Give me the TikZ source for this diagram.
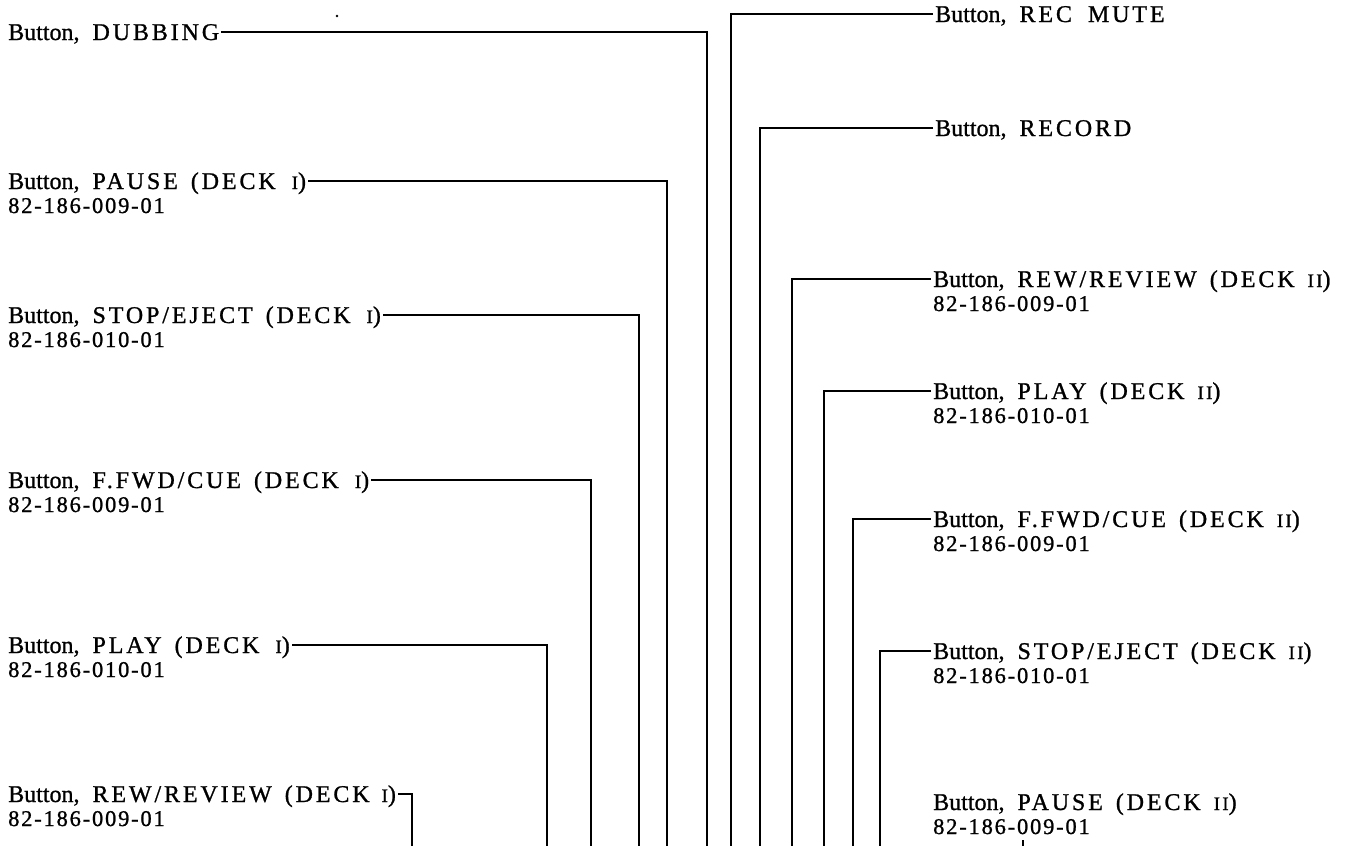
\documentclass[tikz,border=0pt]{standalone}
\usepackage{fontspec}
\setmainfont{Liberation Serif}[FakeBold=1]
\newfontfamily\capsfont{Liberation Serif}[LetterSpace=12,FakeBold=1]
\newfontfamily\numfont{Liberation Serif}[LetterSpace=8,FakeBold=1]
\newcommand{\cp}[1]{{\capsfont #1}}
\newcommand{\rn}[1]{{\fontsize{19}{19}\selectfont\capsfont #1}}
\newcommand{\ws}{\hspace{13pt}}
\begin{document}
\begin{tikzpicture}[x=1pt,y=-1pt,
  lbl/.style={anchor=west, inner sep=0pt, text height=16pt, text depth=0pt, font=\fontsize{24}{24}\selectfont},
  num/.style={anchor=base west, inner sep=0pt, font=\fontsize{22.5}{22.5}\selectfont\numfont},
  lead/.style={line width=1.5pt, black}]
\useasboundingbox (0,0) rectangle (1361,846);
% left labels
\node[lbl] (dub) at (8,32) {Button,\ws\cp{DUBBING}};
\node[lbl] (pauseI) at (8,181) {Button,\ws\cp{PAUSE\ws(DECK}\hspace{16pt}\rn{I})};
\node[num] (pauseIn) at (8,213) {82-186-009-01};
\node[lbl] (stopI) at (8,315) {Button,\ws\cp{STOP/EJECT\ws(DECK}\hspace{16pt}\rn{I})};
\node[num] (stopIn) at (8,347) {82-186-010-01};
\node[lbl] (ffwdI) at (8,480) {Button,\ws\cp{F.FWD/CUE\ws(DECK}\hspace{16pt}\rn{I})};
\node[num] (ffwdIn) at (8,512) {82-186-009-01};
\node[lbl] (playI) at (8,645) {Button,\ws\cp{PLAY\ws(DECK}\hspace{16pt}\rn{I})};
\node[num] (playIn) at (8,677) {82-186-010-01};
\node[lbl] (rewI) at (8,794) {Button,\ws\cp{REW/REVIEW\ws(DECK}\hspace{12pt}\rn{I})};
\node[num] (rewIn) at (8,826) {82-186-009-01};
% right labels
\node[lbl] (recm) at (935,14) {Button,\ws\cp{REC\hspace{16pt}MUTE}};
\node[lbl] (rec) at (935,128) {Button,\ws\cp{RECORD}};
\node[lbl] (rewII) at (933,279) {Button,\ws\cp{REW/REVIEW\ws(DECK}\ws\rn{II})};
\node[num] (rewIIn) at (933,311) {82-186-009-01};
\node[lbl] (playII) at (933,391) {Button,\ws\cp{PLAY\ws(DECK}\ws\rn{II})};
\node[num] (playIIn) at (933,423) {82-186-010-01};
\node[lbl] (ffwdII) at (933,519) {Button,\ws\cp{F.FWD/CUE\ws(DECK}\ws\rn{II})};
\node[num] (ffwdIIn) at (933,551) {82-186-009-01};
\node[lbl] (stopII) at (933,651) {Button,\ws\cp{STOP/EJECT\ws(DECK}\ws\rn{II})};
\node[num] (stopIIn) at (933,683) {82-186-010-01};
\node[lbl] (pauseII) at (933,802) {Button,\ws\cp{PAUSE\ws(DECK}\ws\rn{II})};
\node[num] (pauseIIn) at (933,834) {82-186-009-01};
% bottom ends
\coordinate (bdub) at (707,846);
\coordinate (bpauseI) at (667,846);
\coordinate (bstopI) at (639,846);
\coordinate (bffwdI) at (591,846);
\coordinate (bplayI) at (547,846);
\coordinate (brewI) at (412,846);
\coordinate (brecm) at (731,846);
\coordinate (brec) at (760,846);
\coordinate (brewII) at (792,846);
\coordinate (bplayII) at (824,846);
\coordinate (bffwdII) at (853,846);
\coordinate (bstopII) at (880,846);
% leaders
\draw[lead] ([xshift=2pt]dub.east) -| (bdub);
\draw[lead] ([xshift=2pt]pauseI.east) -| (bpauseI);
\draw[lead] ([xshift=2pt]stopI.east) -| (bstopI);
\draw[lead] ([xshift=2pt]ffwdI.east) -| (bffwdI);
\draw[lead] ([xshift=2pt]playI.east) -| (bplayI);
\draw[lead] ([xshift=2pt]rewI.east) -| (brewI);
\draw[lead] ([xshift=-2pt]recm.west) -| (brecm);
\draw[lead] ([xshift=-2pt]rec.west) -| (brec);
\draw[lead] ([xshift=-2pt]rewII.west) -| (brewII);
\draw[lead] ([xshift=-2pt]playII.west) -| (bplayII);
\draw[lead] ([xshift=-2pt]ffwdII.west) -| (bffwdII);
\draw[lead] ([xshift=-2pt]stopII.west) -| (bstopII);
% small marks
\fill (337,16) circle (1.3pt);
\coordinate (tick) at (1023,840);
\draw[line width=1.2pt] (tick) -- (1023,846);
\end{tikzpicture}
\end{document}
